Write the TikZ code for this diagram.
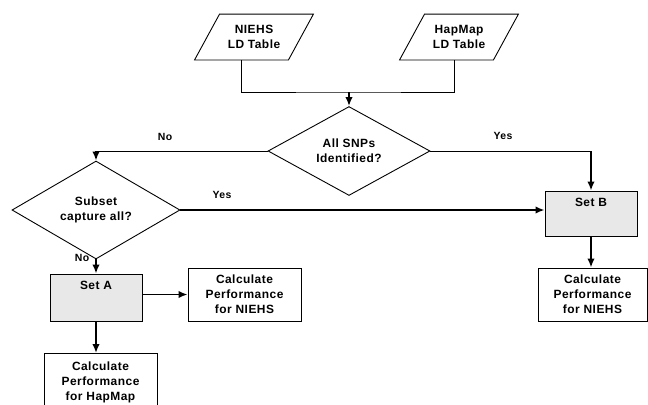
\documentclass[tikz,border=0pt]{standalone}
\usepackage{fontspec}
\setmainfont{Liberation Sans}[LetterSpace=4]
\tikzset{
  table/.style={minimum width=93bp, minimum height=45bp, inner sep=0pt, align=center},
  decision/.style={draw, diamond, inner sep=0pt, align=center},
  setbox/.style={draw, fill=gray!18, minimum width=92bp, inner xsep=0pt, inner ysep=7bp, text height=8bp},
  calc/.style={draw, fill=white, align=center, inner sep=0pt, minimum height=53bp},
  answer/.style={font=\bfseries\fontsize{10.5}{12}\selectfont},
  flow/.style={-{Latex[length=9bp,width=7.5bp]}, line width=1.8bp},
  every node/.style={font=\bfseries\fontsize{12}{15}\selectfont}
}
\usetikzlibrary{shapes.geometric, arrows.meta}

\begin{document}
\begin{tikzpicture}[x=1bp, y=-1bp, line width=0.9bp]
		\useasboundingbox (0,0) rectangle (648,404);

		% Input tables
		\node[table] (niehs) at (254, 37) {NIEHS\\LD Table};
		\draw ([xshift=12.5bp]niehs.north west) -- ([xshift=12.5bp]niehs.north east)
      -- ([xshift=-12.5bp]niehs.south east) -- ([xshift=-12.5bp]niehs.south west) -- cycle;
		\coordinate (niehs-out) at ([xshift=-12.5bp]niehs.south);
		\node[table] (hapmap) at (459, 37) {HapMap\\LD Table};
		\draw ([xshift=12.5bp]hapmap.north west) -- ([xshift=12.5bp]hapmap.north east)
      -- ([xshift=-12.5bp]hapmap.south east) -- ([xshift=-12.5bp]hapmap.south west) -- cycle;
		\coordinate (hapmap-out) at ([xshift=-5bp]hapmap.south);
		\coordinate (ldjoin) at (349, 92);
		\draw (niehs-out) |- (ldjoin) -| (hapmap-out);

		% Decisions
		\node[decision, minimum width=162bp, minimum height=65bp] (snps) at (349, 151) {All SNPs\\Identified?};
		\draw[flow] (ldjoin) -- (snps.north);

		\node[decision, minimum width=168bp, minimum height=66bp] (subset) at (96, 210) {Subset\\capture all?};
		\coordinate (nocorner) at (subset.north |- snps.west);
		\draw (snps.west) -- (nocorner);
		\draw[flow] (nocorner) -- (subset.north);
		\node[answer] (no1) at (165, 137) {No};

		% Sets
		\node[setbox, text depth=23bp] (setb) at (591, 213.5) {Set B};
		\coordinate (yescorner) at (setb.north |- snps.east);
		\draw (snps.east) -- (yescorner);
		\draw[flow] (yescorner) -- (setb.north);
		\node[answer] (yes1) at (503, 136) {Yes};
		\draw[flow] (subset.east) -- (subset.east -| setb.west);
		\node[answer] (yes2) at (222, 195) {Yes};

		\node[setbox, text depth=25bp] (seta) at (96, 297.5) {Set A};
		\draw[flow] (subset.south) -- (seta.north);
		\node[answer] (no2) at (82, 258) {No};

		% Performance
		\node[calc, minimum width=113bp] (perfa) at (244.5, 294.5) {Calculate\\Performance\\for NIEHS};
		\draw[flow] (perfa.west -| seta.east) -- (perfa.west);
		\node[calc, minimum width=113bp, minimum height=58bp, anchor=north] (perfhap) at (100.5, 353) {Calculate\\Performance\\for HapMap};
		\draw[flow] (seta.south) -- (seta.south |- perfhap.north);
		\node[calc, minimum width=109bp] (perfb) at (592.5, 294.5) {Calculate\\Performance\\for NIEHS};
		\draw[flow] (setb.south) -- (setb.south |- perfb.north);

	\end{tikzpicture}
\end{document}
